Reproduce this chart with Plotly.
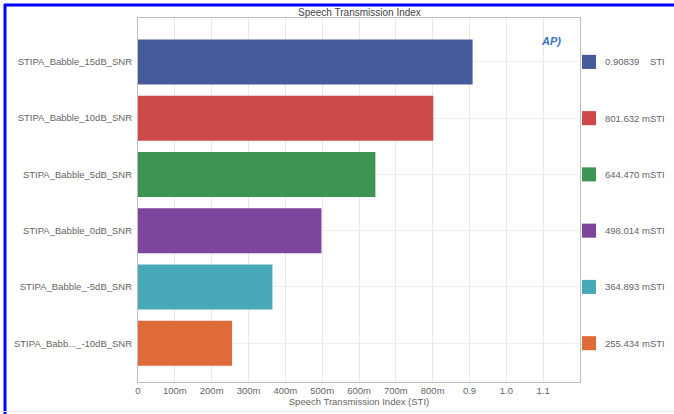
import plotly.graph_objects as go

categories = ["STIPA_Babble_15dB_SNR", "STIPA_Babble_10dB_SNR", "STIPA_Babble_5dB_SNR",
              "STIPA_Babble_0dB_SNR", "STIPA_Babble_-5dB_SNR", "STIPA_Babb..._-10dB_SNR"]
sti_values = [0.90839, 0.801632, 0.644470, 0.498014, 0.364893, 0.255434]
legend_labels = ["0.90839    STI", "801.632 mSTI", "644.470 mSTI",
                 "498.014 mSTI", "364.893 mSTI", "255.434 mSTI"]
bar_colors = ["#46599b", "#cc4a48", "#3e9451", "#7e459c", "#47a9b8", "#e06b3a"]
x_tickvals = [0, 0.1, 0.2, 0.3, 0.4, 0.5, 0.6, 0.7, 0.8, 0.9, 1.0, 1.1]
x_ticktext = ["0", "100m", "200m", "300m", "400m", "500m", "600m", "700m", "800m", "0.9", "1.0", "1.1"]

W, H = 674, 414
L, R, T, B = 138, 580, 18, 382
pw, ph = R - L, B - T

def px(x):
    return (x - L) / pw

def py(y):
    return (B - y) / ph

FONT = "Liberation Sans"
TXT = "#666666"

fig = go.Figure()
fig.add_trace(go.Bar(
    x=sti_values, y=categories, orientation="h",
    marker=dict(color=bar_colors, line=dict(width=0)),
    width=0.8, showlegend=False, hoverinfo="x+y",
))

shapes = []
annotations = []
for i, (c, lab, col) in enumerate(zip(categories, legend_labels, bar_colors)):
    shapes.append(dict(type="rect", xref="paper", yref="y",
                       x0=px(582), x1=px(596), y0=i - 0.125, y1=i + 0.125,
                       fillcolor=col, line=dict(width=0), layer="above"))
    annotations.append(dict(xref="paper", yref="y", x=px(603), y=i, text=lab,
                            showarrow=False, xanchor="left", yanchor="middle",
                            font=dict(family=FONT, size=9.5, color=TXT)))

# blue frame (left and top) and faint bottom line
shapes.append(dict(type="line", xref="paper", yref="paper",
                   x0=px(5), x1=px(5), y0=py(4), y1=py(420),
                   line=dict(color="#0000ff", width=3)))
shapes.append(dict(type="line", xref="paper", yref="paper",
                   x0=px(4), x1=px(690), y0=py(5), y1=py(5),
                   line=dict(color="#0000ff", width=3)))
shapes.append(dict(type="line", xref="paper", yref="paper",
                   x0=px(0), x1=px(690), y0=py(411.5), y1=py(411.5),
                   line=dict(color="#e4e2f2", width=1)))

# logo
annotations.append(dict(xref="paper", yref="paper", x=px(563), y=py(33),
                        text="<b><i>AP)</i></b>", showarrow=False,
                        font=dict(family=FONT, size=11, color="#3a6fc4")))
# title
annotations.append(dict(xref="paper", yref="paper", x=0.5, y=py(12),
                        text="Speech Transmission Index", showarrow=False,
                        xanchor="center", yanchor="middle",
                        font=dict(family=FONT, size=10, color="#444444")))

fig.update_layout(
    width=W, height=H,
    margin=dict(l=L, r=W - R, t=T, b=H - B, pad=0, autoexpand=False),
    paper_bgcolor="white", plot_bgcolor="white",
    font=dict(family=FONT, size=10, color=TXT),
    bargap=0.2,
    shapes=shapes, annotations=annotations,
    xaxis=dict(range=[0, 1.2], tickvals=x_tickvals, ticktext=x_ticktext,
               showgrid=True, gridcolor="#e8e8e8", gridwidth=1, automargin=False,
               zeroline=False, showline=True, linecolor="#bdbdbd", mirror=True,
               ticks="", tickfont=dict(family=FONT, size=9.5, color=TXT),
               title=dict(text="Speech Transmission Index (STI)", standoff=2,
                          font=dict(family=FONT, size=9.5, color=TXT))),
    yaxis=dict(categoryorder="array", categoryarray=categories, automargin=False,
               range=[5.69, -0.78], showgrid=True, gridcolor="#eeeeee",
               zeroline=False, showline=True, linecolor="#bdbdbd", mirror=True,
               ticks="", ticklabelstandoff=3,
               tickfont=dict(family=FONT, size=9.5, color=TXT)),
)

fig.write_html("out.html")
